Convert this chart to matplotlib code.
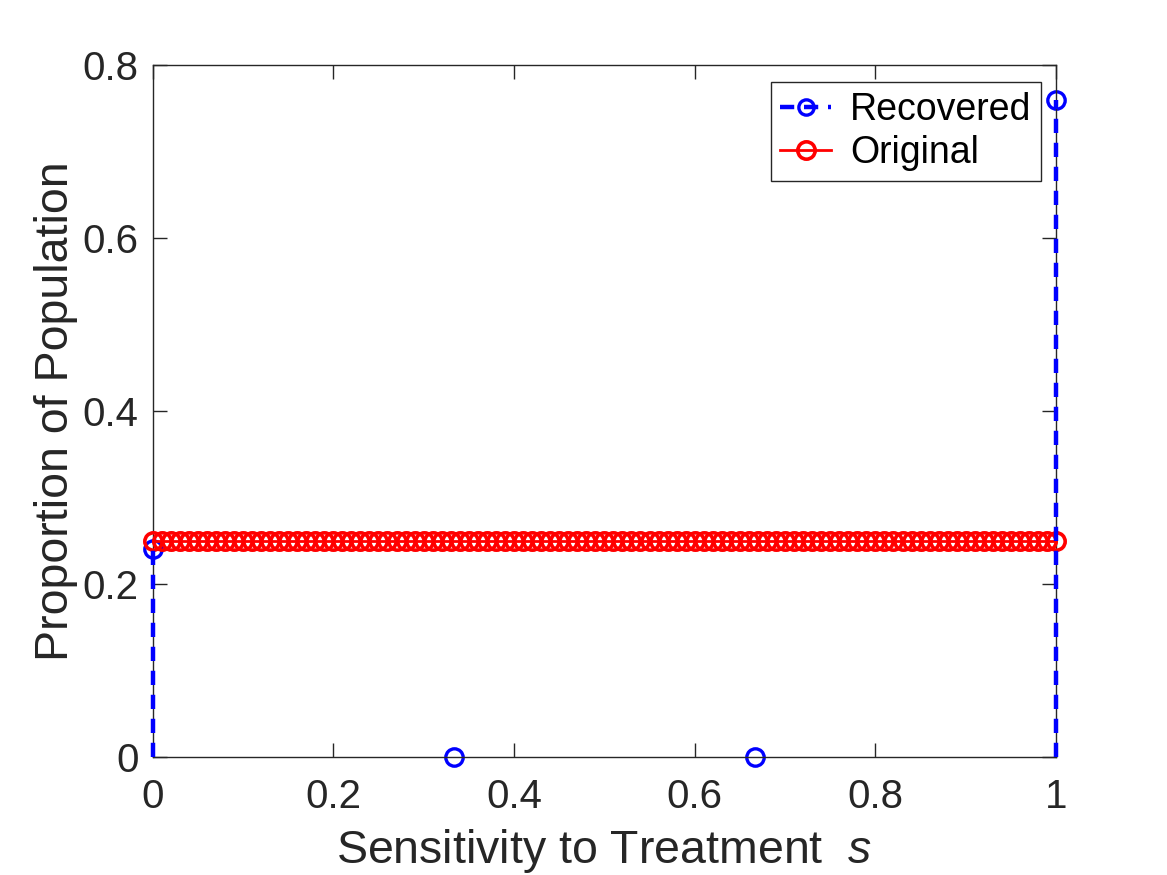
import numpy as np
import matplotlib
matplotlib.use("Agg")
import matplotlib.pyplot as plt

# Data
rec_s = [0.0, 1/3, 2/3, 1.0]
rec_p = [0.24, 0.0, 0.0, 0.76]
orig_s = np.linspace(0, 1, 101)
orig_p = [0.25] * 101

xticks = [0, 0.2, 0.4, 0.6, 0.8, 1]
yticks = [0, 0.2, 0.4, 0.6, 0.8]

plt.rcParams['font.family'] = ['Liberation Sans', 'DejaVu Sans']
plt.rcParams['mathtext.fontset'] = 'custom'
plt.rcParams['mathtext.it'] = 'Liberation Sans:italic'

fig = plt.figure(figsize=(11.67, 8.75), dpi=100)
ax = fig.add_axes([0.1307, 0.1349, 0.7743, 0.7908])

BLUE = '#0000ff'
RED = '#ff0000'
dash = (0, (3.2, 2.2))

# Original (red)
h2, = ax.plot(orig_s, orig_p, color=RED, lw=2, marker='o', ms=12.5,
              mfc='none', mec=RED, mew=2.6, zorder=3, clip_on=False)

# Recovered: stem-like dashed lines with circle markers
for s, p in zip(rec_s, rec_p):
    ax.plot([s, s], [0, p], color=BLUE, linestyle=dash, lw=3.2, zorder=4,
            clip_on=False)
ax.plot(rec_s, rec_p, linestyle='none', marker='o', ms=12.5, mfc='none',
        mec=BLUE, mew=2.4, zorder=2.5, clip_on=False)
h1, = ax.plot([], [], color=BLUE, linestyle=dash, lw=3.2,
              marker='o', ms=11, mfc='none', mec=BLUE, mew=2.4)

ax.set_xlim(0, 1)
ax.set_ylim(0, 0.8)
ax.set_xticks(xticks)
ax.set_xticklabels(['0', '0.2', '0.4', '0.6', '0.8', '1'])
ax.set_yticks(yticks)
ax.set_yticklabels(['0', '0.2', '0.4', '0.6', '0.8'])
ax.tick_params(direction='in', length=10, width=1, top=True, right=True,
               labelsize=29, colors='#262626')
ax.tick_params(axis='x', pad=15)
ax.tick_params(axis='y', pad=10)
for sp in ax.spines.values():
    sp.set_linewidth(1)
    sp.set_color('#262626')
ax.set_xlabel('Sensitivity to Treatment  $s$', fontsize=33.5, color='#262626', labelpad=8)
ax.set_ylabel('Proportion of Population', fontsize=33.5, color='#262626', labelpad=3)

leg = ax.legend([h1, h2], ['Recovered', 'Original'], loc='upper right',
                bbox_to_anchor=(0.9827, 0.975), fontsize=27, frameon=True,
                fancybox=False, edgecolor='#262626', framealpha=1,
                handlelength=1.35, handletextpad=0.5, borderpad=0.25,
                labelspacing=0.2, borderaxespad=0)
leg.get_frame().set_linewidth(1)

fig.savefig('out.png', dpi=100)
